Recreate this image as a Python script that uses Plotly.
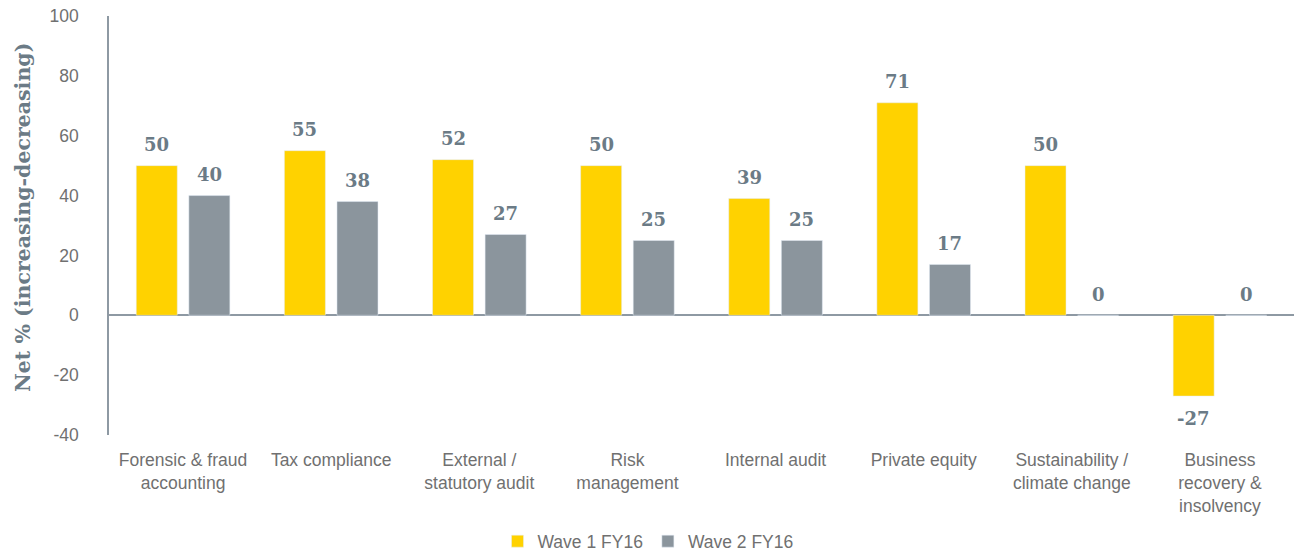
import plotly.graph_objects as go

categories = [
    "Forensic & fraud<br>accounting",
    "Tax compliance",
    "External /<br>statutory audit",
    "Risk<br>management",
    "Internal audit",
    "Private equity",
    "Sustainability /<br>climate change",
    "Business<br>recovery &<br>insolvency",
]
wave1 = [50, 55, 52, 50, 39, 71, 50, -27]
wave2 = [40, 38, 27, 25, 25, 17, 0, 0]
y_ticks = [-40, -20, 0, 20, 40, 60, 80, 100]
y_tick_text = ["-40", "-20", "0", "20", "40", "60", "80", "100"]

YELLOW = "#FFD200"
GREY = "#8B959D"
LABEL = "#6B7B86"
TICK = "#707070"

fig = go.Figure()
fig.add_trace(go.Bar(name="Wave 1 FY16", x=categories, y=wave1, marker_color=YELLOW))
fig.add_trace(go.Bar(name="Wave 2 FY16", x=categories, y=wave2, marker_color=GREY))

# value labels sitting a little clear of each bar end
for series, dx in ((wave1, -26.25), (wave2, 26.25)):
    for cat, v in zip(categories, series):
        fig.add_annotation(
            x=cat, y=v, xref="x", yref="y", text=str(v), showarrow=False,
            xshift=dx, yshift=(-22 if v < 0 else 21),
            font=dict(family="DejaVu Serif", size=18, color=LABEL, weight="bold"),
        )

# rotated axis title placed beside the value axis
fig.add_annotation(
    text="Net % (increasing-decreasing)", textangle=-90, showarrow=False,
    xref="paper", yref="paper", x=-86 / 1185, y=(435 - 218) / 419,
    xanchor="center", yanchor="middle",
    font=dict(family="DejaVu Serif", size=20.5, color=LABEL, weight="bold"),
)

fig.update_layout(
    width=1296, height=554,
    margin=dict(l=109, r=2, t=16, b=119, autoexpand=False),
    plot_bgcolor="white", paper_bgcolor="white",
    barmode="group", bargap=0.29, bargroupgap=0.22,
    font=dict(family="Liberation Sans", size=17.5, color=TICK),
    showlegend=True,
    legend=dict(
        orientation="h", xref="container", yref="container",
        x=0.5, xanchor="center", y=0.023, yanchor="middle",
        font=dict(size=17.5, color=TICK), itemwidth=30, traceorder="normal",
    ),
    xaxis=dict(
        showline=False, showgrid=False, ticks="outside", ticklen=0,
        tickcolor="white", ticklabelstandoff=9,
        tickfont=dict(size=17.5, color=TICK),
    ),
    yaxis=dict(
        range=[-40, 100], tickvals=y_ticks, ticktext=y_tick_text, showgrid=False,
        showline=True, linecolor="#8E99A3", linewidth=1.5,
        zeroline=True, zerolinecolor="#8E99A3", zerolinewidth=1.5,
        ticks="", ticklabelstandoff=25,
        tickfont=dict(size=17.5, color=TICK),
    ),
)

fig.write_html("out.html")
